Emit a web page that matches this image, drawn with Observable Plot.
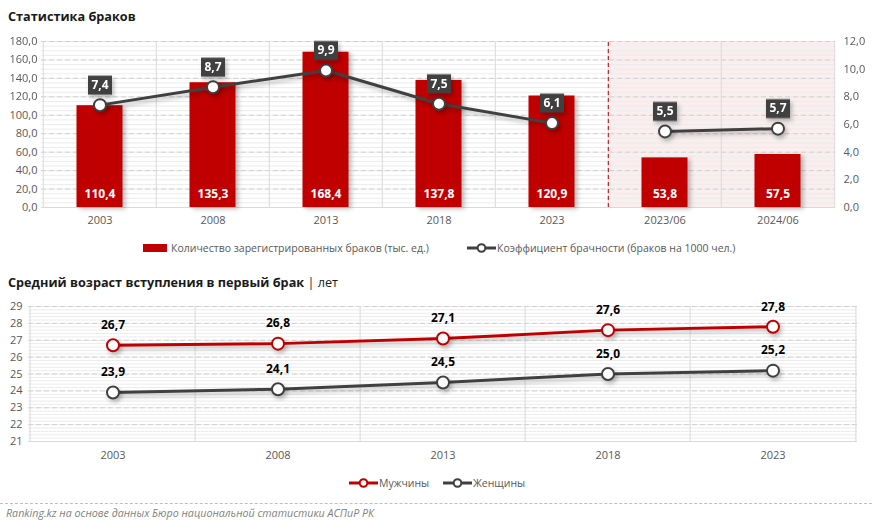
<!DOCTYPE html>
<html><head><meta charset="utf-8">
<script src="https://cdn.jsdelivr.net/npm/d3@7"></script>
<script src="https://cdn.jsdelivr.net/npm/@observablehq/plot@0.6"></script>
<style>
body{margin:0;background:#fff;font-family:"Open Sans","Noto Sans",sans-serif;}
#page{position:relative;width:872px;height:529px;overflow:hidden;}
.title{position:absolute;left:8px;font-size:12.7px;font-weight:bold;color:#1a1a1a;white-space:nowrap;}
.title span{font-weight:normal;}
.leg{position:absolute;font-size:10.5px;color:#595959;white-space:nowrap;display:flex;align-items:center;}
.chart{position:absolute;left:0;}
#sep{position:absolute;left:0;top:503px;width:872px;border-top:1px dashed #bfbfbf;}
#cap{position:absolute;left:6px;top:506px;font-size:10.7px;font-style:italic;color:#7f7f7f;white-space:nowrap;}
</style></head>
<body><div id="page">
<div class="title" style="top:7px">Статистика браков</div>
<div class="chart" id="c1" style="top:30px"></div>
<div class="leg" style="left:143px;top:241px"><svg width="28" height="14"><rect x="0" y="3" width="24" height="8" fill="#c00000"/></svg>Количество зарегистрированных браков (тыс. ед.)</div>
<div class="leg" style="left:466px;top:241px"><svg width="31" height="14"><line x1="1" x2="30" y1="7" y2="7" stroke="#404040" stroke-width="3"/><circle cx="15.5" cy="7" r="3.8" fill="#fff" stroke="#404040" stroke-width="2"/></svg>Коэффициент брачности (браков на 1000 чел.)</div>
<div class="title" style="top:273px">Средний возраст вступления в первый брак <span>| лет</span></div>
<div class="chart" id="c2" style="top:297px"></div>
<div class="leg" style="left:348px;top:476px"><svg width="31" height="14"><line x1="1" x2="30" y1="7" y2="7" stroke="#c00000" stroke-width="3"/><circle cx="15.5" cy="7" r="3.8" fill="#fff" stroke="#c00000" stroke-width="2"/></svg>Мужчины</div>
<div class="leg" style="left:442px;top:476px"><svg width="31" height="14"><line x1="1" x2="30" y1="7" y2="7" stroke="#404040" stroke-width="3"/><circle cx="15.5" cy="7" r="3.8" fill="#fff" stroke="#404040" stroke-width="2"/></svg>Женщины</div>
<div id="sep"></div>
<div id="cap">Ranking.kz на основе данных Бюро национальной статистики АСПиР РК</div>
</div>
<script>
// ---- Data: chart 1 ----
const periods = ["2003","2008","2013","2018","2023","2023/06","2024/06"];
const marriages = [110.4,135.3,168.4,137.8,120.9,53.8,57.5];
const rate = [7.4,8.7,9.9,7.5,6.1,5.5,5.7];
const segment = ["year","year","year","year","year","half","half"];
const halfYearPeriods = ["2023/06","2024/06"];
const leftTicks = [0,20,40,60,80,100,120,140,160,180];
const rightTicks = [0,2,4,6,8,10,12];

// ---- Data: chart 2 ----
const years2 = ["2003","2008","2013","2018","2023"];
const men = [26.7,26.8,27.1,27.6,27.8];
const women = [23.9,24.1,24.5,25.0,25.2];
const ageTicks = [21,22,23,24,25,26,27,28,29];

const fmt1 = d => d.toFixed(1).replace(".", ",");
const FONT = "'Open Sans','Noto Sans',sans-serif";

// ---------- Chart 1 ----------
{
  const W = 872, H = 200, ml = 41, mr = 37, mt = 11, mb = 23;
  const bw = (W - ml - mr) / periods.length;
  const k = 180 / 12; // right axis scale factor
  const rows = periods.map((p, i) => ({p, m: marriages[i], r: rate[i], ry: rate[i] * k, seg: segment[i]}));
  const minor = d3.range(0, 180.01, 5);
  const boxSym = {draw(ctx){ ctx.rect(-12, -9.5, 24, 19); }};
  const chart = Plot.plot({
    width: W, height: H, marginLeft: ml, marginRight: mr, marginTop: mt, marginBottom: mb,
    style: {fontFamily: FONT, fontSize: "11px", color: "#595959", background: "transparent"},
    x: {type: "band", domain: periods, padding: 0, label: null},
    y: {domain: [0, 180], label: null},
    marks: [
      Plot.barY(halfYearPeriods, {x: d => d, y1: 0, y2: 180, fill: "#fbeeee"}),
      Plot.ruleY(minor, {y: d => d, stroke: "#ececec", strokeWidth: 1}),
      Plot.ruleY(leftTicks, {y: d => d, stroke: "#d0d0d0", strokeDasharray: "5,3"}),
      Plot.ruleX(periods, {x: d => d, dx: -bw / 2, stroke: "#d9d9d9", y1: 0, y2: 180}),
      Plot.ruleX([periods[periods.length - 1]], {x: d => d, dx: bw / 2, stroke: "#d9d9d9", y1: 0, y2: 180}),
      Plot.ruleY([0], {stroke: "#d9d9d9"}),
      Plot.ruleX(["2023/06"], {x: d => d, dx: -bw / 2, y1: 0, y2: 180, stroke: "#c00000", strokeDasharray: "4,3", strokeWidth: 1}),
      Plot.barY(rows, {x: "p", y: "m", fill: "#c00000", insetLeft: 33.5, insetRight: 33.5}),
      Plot.text(rows, {x: "p", y: 0, text: d => fmt1(d.m), dy: -13, fill: "#fff", fontWeight: "bold", fontSize: 12}),
      Plot.line(rows, {x: "p", y: "ry", z: "seg", stroke: "#404040", strokeWidth: 3}),
      Plot.dot(rows, {x: "p", y: "ry", r: 6, fill: "#fff", stroke: "#404040", strokeWidth: 2}),
      Plot.dot(rows, {x: "p", y: "ry", dy: -20, symbol: boxSym, fill: "#404040", stroke: "none"}),
      Plot.text(rows, {x: "p", y: "ry", dy: -20, text: d => fmt1(d.r), fill: "#fff", fontWeight: "bold", fontSize: 12}),
      Plot.axisX({tickSize: 0, tickPadding: 9, fill: "#595959"}),
      Plot.axisY({ticks: leftTicks, tickFormat: fmt1, tickSize: 0, tickPadding: 4, fill: "#595959"}),
      Plot.axisY({anchor: "right", ticks: rightTicks.map(t => t * k), tickFormat: d => fmt1(d / k), tickSize: 0, tickPadding: 8, textAnchor: "start", fill: "#595959"})
    ]
  });
  d3.select(chart).selectAll('g[aria-label="bar"]').filter((d,i,n)=>n[i].querySelectorAll("rect").length===7)
    .style("filter", "drop-shadow(3px 2px 2px rgba(0,0,0,0.25))");
  d3.select(chart).selectAll('g[aria-label="line"], g[aria-label="dot"]')
    .style("filter", "drop-shadow(2px 3px 2px rgba(0,0,0,0.25))");
  document.getElementById("c1").appendChild(chart);
}

// ---------- Chart 2 ----------
{
  const W = 872, H = 170, ml = 28, mr = 15, mt = 9, mb = 26;
  const bw = (W - ml - mr) / years2.length;
  const rows = [];
  years2.forEach((y, i) => rows.push({y, v: men[i], s: "Мужчины"}));
  years2.forEach((y, i) => rows.push({y, v: women[i], s: "Женщины"}));
  const col = {"Мужчины": "#c00000", "Женщины": "#404040"};
  const minor = d3.range(21, 29.001, 0.2);
  const chart = Plot.plot({
    width: W, height: H, marginLeft: ml, marginRight: mr, marginTop: mt, marginBottom: mb,
    style: {fontFamily: FONT, fontSize: "11px", color: "#595959", background: "transparent"},
    x: {type: "band", domain: years2, padding: 0, label: null},
    y: {domain: [21, 29], label: null},
    marks: [
      Plot.ruleY(minor, {y: d => d, stroke: "#ececec"}),
      Plot.ruleY(ageTicks, {y: d => d, stroke: "#d0d0d0", strokeDasharray: "5,3"}),
      Plot.ruleX(years2, {x: d => d, dx: -bw / 2, y1: 21, y2: 29, stroke: "#d9d9d9"}),
      Plot.ruleX([years2[years2.length - 1]], {x: d => d, dx: bw / 2, y1: 21, y2: 29, stroke: "#d9d9d9"}),
      Plot.ruleY([21], {stroke: "#d9d9d9"}),
      Plot.line(rows, {x: "y", y: "v", z: "s", stroke: d => col[d.s], strokeWidth: 3}),
      Plot.dot(rows, {x: "y", y: "v", r: 6, fill: "#fff", stroke: d => col[d.s], strokeWidth: 2}),
      Plot.text(rows, {x: "y", y: "v", dy: -20, text: d => fmt1(d.v), fill: "#000", fontWeight: "bold", fontSize: 12}),
      Plot.axisX({tickSize: 0, tickPadding: 10, fill: "#595959"}),
      Plot.axisY({ticks: ageTicks, tickFormat: d => d, tickSize: 0, tickPadding: 6, fill: "#595959"})
    ]
  });
  d3.select(chart).selectAll('g[aria-label="line"], g[aria-label="dot"]')
    .style("filter", "drop-shadow(2px 3px 2px rgba(0,0,0,0.25))");
  document.getElementById("c2").appendChild(chart);
}
</script>
</body></html>
